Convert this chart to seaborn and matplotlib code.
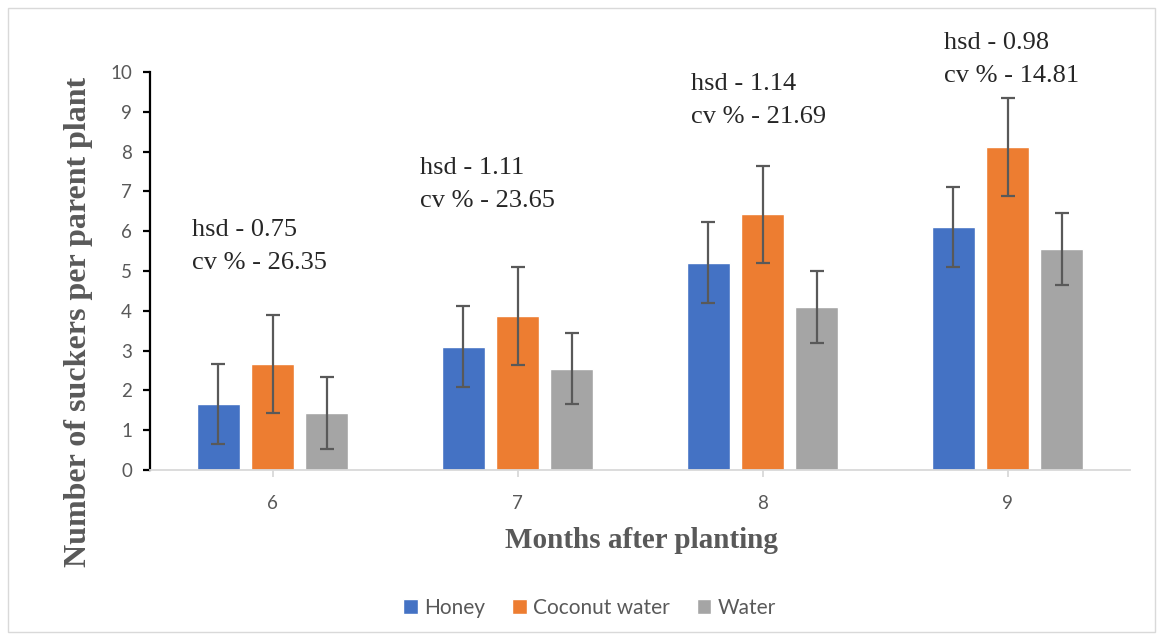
import pandas as pd
import matplotlib.pyplot as plt
import matplotlib.patches as mpatches
import seaborn as sns
import numpy as np

months = ['6', '7', '8', '9']
treatments = ['Honey', 'Coconut water', 'Water']
honey = [1.66, 3.10, 5.21, 6.10]
coconut = [2.66, 3.88, 6.42, 8.11]
water = [1.43, 2.55, 4.10, 5.55]
honey_err = [1.01, 1.01, 1.01, 1.01]
coconut_err = [1.23, 1.23, 1.23, 1.23]
water_err = [0.90, 0.90, 0.90, 0.90]
hsd = ['0.75', '1.11', '1.14', '0.98']
cv = ['26.35', '23.65', '21.69', '14.81']
note_x = [-0.33, -0.40, -0.29, -0.26]
note_y = [6.03, 7.59, 9.70, 10.73]

colors = ['#4472C4', '#ED7D31', '#A5A5A5']

df = pd.DataFrame({
    'Month': months * 3,
    'Treatment': np.repeat(treatments, len(months)),
    'Value': honey + coconut + water,
    'Err': honey_err + coconut_err + water_err,
})

sns.set_style('white')
plt.rcParams['font.family'] = ['Lato', 'DejaVu Sans']

fig = plt.figure(figsize=(11.63, 6.4), dpi=100)
ax = fig.add_axes([150/1163, 1-470/640, 980/1163, 398/640])

sns.barplot(data=df, x='Month', y='Value', hue='Treatment', palette=colors,
            saturation=1, width=0.667, gap=0.21, errorbar=None, ax=ax)

# error bars from the bar positions
for cont, t in zip(ax.containers, treatments):
    errs = df[df['Treatment'] == t]['Err'].values
    xs = [p.get_x() + p.get_width()/2 for p in cont.patches]
    hs = [p.get_height() for p in cont.patches]
    ax.errorbar(xs, hs, yerr=errs, fmt='none', ecolor='#595959',
                elinewidth=1.6, capsize=5, capthick=1.6, zorder=5)

ax.set_xlim(-0.5, 3.5)
ax.set_ylim(0, 10)
ax.set_yticks(range(0, 11))

sns.despine(ax=ax)
ax.spines['left'].set_color('black')
ax.spines['left'].set_linewidth(1.6)
ax.spines['bottom'].set_color('#D9D9D9')
ax.spines['bottom'].set_linewidth(1.3)
ax.tick_params(axis='y', direction='out', length=5, width=1.6, color='black',
               labelsize=13.5, labelcolor='#595959', pad=8, left=True)
ax.tick_params(axis='x', direction='out', length=5, width=1.3, color='#D9D9D9',
               labelsize=13.5, labelcolor='#595959', pad=13, bottom=True)

serif = ['Liberation Serif', 'DejaVu Serif']
ax.set_xlabel('Months after planting', fontsize=21, fontweight='bold',
              color='#595959', family=serif)
ax.set_ylabel('Number of suckers per parent plant', fontsize=23, fontweight='bold',
              color='#595959', family=serif)
ax.xaxis.set_label_coords(0.501, -0.178)
ax.xaxis.label.set_va('center')
ax.yaxis.set_label_coords(-0.073, 0.372)
ax.yaxis.label.set_va('center')

for i in range(len(months)):
    ax.text(i + note_x[i], note_y[i], 'hsd - ' + hsd[i], fontsize=19,
            family=serif, va='center', ha='left', clip_on=False)
    ax.text(i + note_x[i], note_y[i] - 0.83, 'cv % - ' + cv[i], fontsize=19,
            family=serif, va='center', ha='left', clip_on=False)

handles, labels = ax.get_legend_handles_labels()
ax.legend(handles, labels, loc='center', bbox_to_anchor=(0.507, 0.05),
          bbox_transform=fig.transFigure, ncol=3, frameon=False,
          handlelength=0.7, handleheight=0.7, handletextpad=0.3,
          columnspacing=1.3, fontsize=15, labelcolor='#595959')

fig.patches.append(mpatches.Rectangle((8/1163, 8/640), 1147/1163, 624/640,
                                      transform=fig.transFigure, fill=False,
                                      edgecolor='#D9D9D9', linewidth=1))

plt.savefig('out.png', dpi=100)
